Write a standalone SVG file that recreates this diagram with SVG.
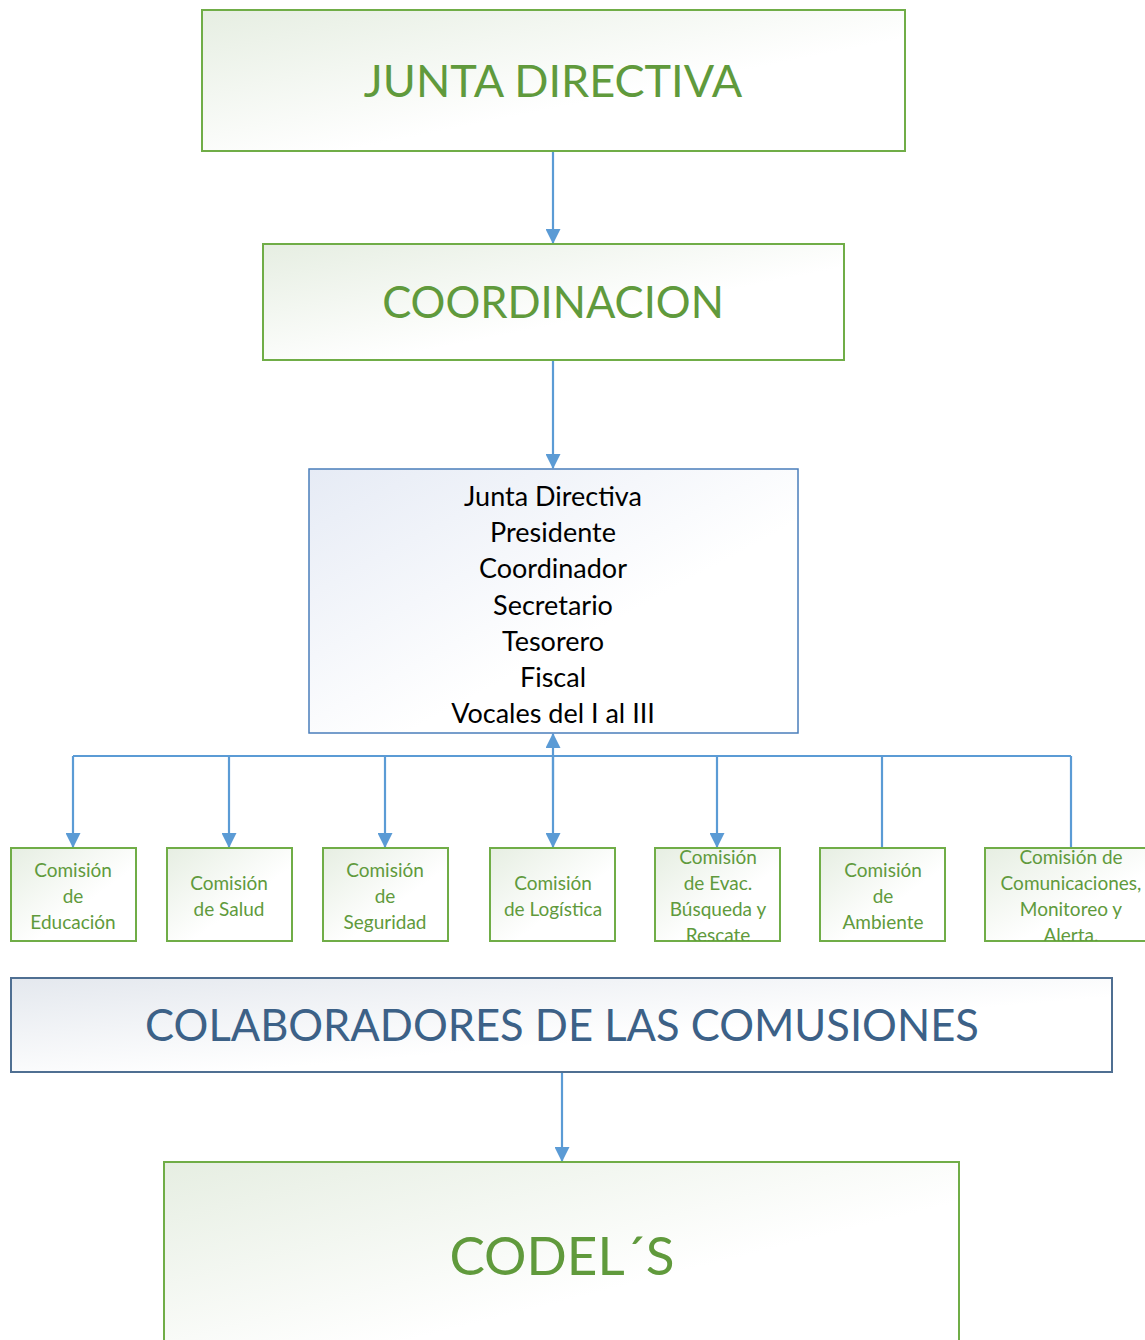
<svg xmlns="http://www.w3.org/2000/svg" width="1145" height="1340" viewBox="0 0 1145 1340">
<style>
.gbox{fill:url(#gg);stroke:#70AD47;stroke-width:2}
.bbox{fill:url(#bg);stroke:#4A7EBB;stroke-width:1.5}
.cbox{fill:url(#cg);stroke:#4F6F92;stroke-width:2}
.big{font-family:Lato,"Open Sans",sans-serif;fill:#609A3C;text-anchor:middle}
.sm{font-family:Lato,"Open Sans",sans-serif;fill:#609A3C;font-size:19px;text-anchor:middle}
.lst{font-family:Lato,"Open Sans",sans-serif;fill:#000;font-size:27px;text-anchor:middle}
.con{stroke:#5B9BD5;stroke-width:2.2;fill:none}
</style>
<defs>
<linearGradient id="gg" x1="0" y1="0" x2="1" y2="1"><stop offset="0" stop-color="#E6EEE2"/><stop offset="0.6" stop-color="#FFFFFF"/></linearGradient>
<linearGradient id="bg" x1="0" y1="0" x2="1" y2="1"><stop offset="0" stop-color="#E6EBF5"/><stop offset="0.6" stop-color="#FFFFFF"/></linearGradient>
<linearGradient id="cg" x1="0" y1="0" x2="1" y2="1"><stop offset="0" stop-color="#E4E8EE"/><stop offset="0.6" stop-color="#FFFFFF"/></linearGradient>
<marker id="ah" markerWidth="15" markerHeight="15" refX="14" refY="7.5" orient="auto" markerUnits="userSpaceOnUse"><path d="M0,0 L15,7.5 L0,15 Z" fill="#5B9BD5"/></marker>
<clipPath id="c5"><rect x="655" y="848" width="125" height="93"/></clipPath>
<clipPath id="c7"><rect x="985" y="848" width="170" height="93"/></clipPath>
</defs>
<g id="connectors">
<line class="con" x1="553" y1="151" x2="553" y2="243" marker-end="url(#ah)"/>
<line class="con" x1="553" y1="360" x2="553" y2="468" marker-end="url(#ah)"/>
<line class="con" x1="73" y1="756" x2="1071" y2="756"/>
<line class="con" x1="553" y1="790" x2="553" y2="734" marker-end="url(#ah)"/>
<line class="con" x1="553" y1="756" x2="553" y2="847" marker-end="url(#ah)"/>
<line class="con" x1="73" y1="756" x2="73" y2="847" marker-end="url(#ah)"/>
<line class="con" x1="229" y1="756" x2="229" y2="847" marker-end="url(#ah)"/>
<line class="con" x1="385" y1="756" x2="385" y2="847" marker-end="url(#ah)"/>
<line class="con" x1="717" y1="756" x2="717" y2="847" marker-end="url(#ah)"/>
<line class="con" x1="882" y1="756" x2="882" y2="848"/>
<line class="con" x1="1071" y1="756" x2="1071" y2="848"/>
<line class="con" x1="562" y1="1072" x2="562" y2="1161" marker-end="url(#ah)"/>
</g>
<g id="junta">
<rect class="gbox" x="202" y="10" width="703" height="141"/>
<text class="big" x="553" y="97" font-size="45">JUNTA DIRECTIVA</text>
</g>
<g id="coordinacion">
<rect class="gbox" x="263" y="244" width="581" height="116"/>
<text class="big" x="553" y="318" font-size="43.5">COORDINACION</text>
</g>
<g id="miembros">
<rect class="bbox" x="309" y="469" width="489" height="264"/>
<text class="lst" x="553" y="506">Junta Directiva</text>
<text class="lst" x="553" y="542">Presidente</text>
<text class="lst" x="553" y="578">Coordinador</text>
<text class="lst" x="553" y="615">Secretario</text>
<text class="lst" x="553" y="651">Tesorero</text>
<text class="lst" x="553" y="687">Fiscal</text>
<text class="lst" x="553" y="723">Vocales del I al III</text>
</g>
<g id="educacion">
<rect class="gbox" x="11" y="848" width="125" height="93"/>
<text class="sm" x="73" y="877">Comisión</text>
<text class="sm" x="73" y="903">de</text>
<text class="sm" x="73" y="929">Educación</text>
</g>
<g id="salud">
<rect class="gbox" x="167" y="848" width="125" height="93"/>
<text class="sm" x="229" y="890">Comisión</text>
<text class="sm" x="229" y="916">de Salud</text>
</g>
<g id="seguridad">
<rect class="gbox" x="323" y="848" width="125" height="93"/>
<text class="sm" x="385" y="877">Comisión</text>
<text class="sm" x="385" y="903">de</text>
<text class="sm" x="385" y="929">Seguridad</text>
</g>
<g id="logistica">
<rect class="gbox" x="490" y="848" width="125" height="93"/>
<text class="sm" x="553" y="890">Comisión</text>
<text class="sm" x="553" y="916">de Logística</text>
</g>
<g id="evacuacion">
<rect class="gbox" x="655" y="848" width="125" height="93"/>
<g clip-path="url(#c5)">
<text class="sm" x="718" y="864">Comisión</text>
<text class="sm" x="718" y="890">de Evac.</text>
<text class="sm" x="718" y="916">Búsqueda y</text>
<text class="sm" x="718" y="942">Rescate</text>
</g>
</g>
<g id="ambiente">
<rect class="gbox" x="820" y="848" width="125" height="93"/>
<text class="sm" x="883" y="877">Comisión</text>
<text class="sm" x="883" y="903">de</text>
<text class="sm" x="883" y="929">Ambiente</text>
</g>
<g id="comunicaciones">
<rect class="gbox" x="985" y="848" width="172" height="93"/>
<g clip-path="url(#c7)">
<text class="sm" x="1071" y="864">Comisión de</text>
<text class="sm" x="1071" y="890">Comunicaciones,</text>
<text class="sm" x="1071" y="916">Monitoreo y</text>
<text class="sm" x="1071" y="942">Alerta.</text>
</g>
</g>
<g id="colaboradores">
<rect class="cbox" x="11" y="978" width="1101" height="94"/>
<text class="big" x="562" y="1041" font-size="43.5" style="fill:#3C6187">COLABORADORES DE LAS COMUSIONES</text>
</g>
<g id="codels">
<rect class="gbox" x="164" y="1162" width="795" height="200"/>
<text class="big" x="562" y="1275" font-size="53">CODEL´S</text>
</g>
</svg>
